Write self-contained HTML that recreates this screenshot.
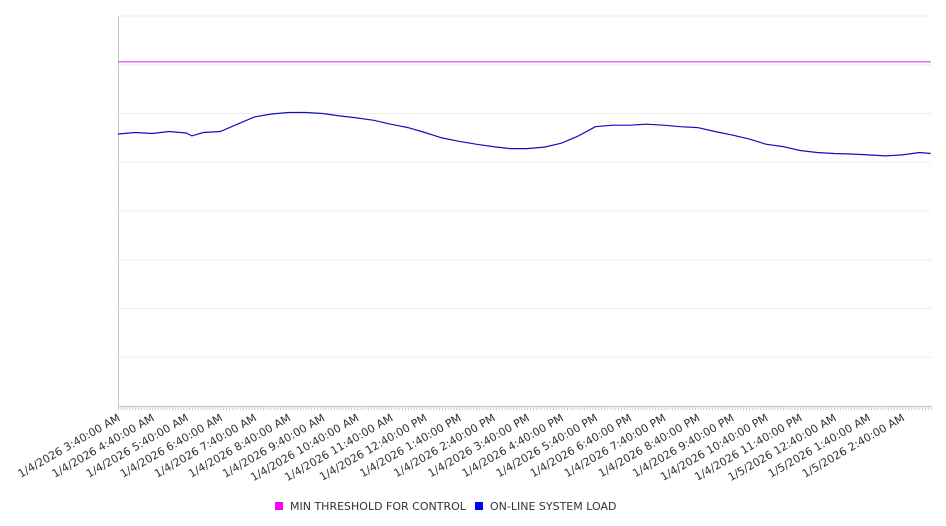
<!DOCTYPE html>
<html><head><meta charset="utf-8"><style>
html,body{margin:0;padding:0;background:#fff;width:946px;height:526px;overflow:hidden}
svg{display:block;font-family:"DejaVu Sans","Liberation Sans",sans-serif}
</style></head><body>
<svg id="chart" width="946" height="526"></svg>
<script>
const tickLabels = ["1/4/2026 3:40:00 AM","1/4/2026 4:40:00 AM","1/4/2026 5:40:00 AM","1/4/2026 6:40:00 AM","1/4/2026 7:40:00 AM","1/4/2026 8:40:00 AM","1/4/2026 9:40:00 AM","1/4/2026 10:40:00 AM","1/4/2026 11:40:00 AM","1/4/2026 12:40:00 PM","1/4/2026 1:40:00 PM","1/4/2026 2:40:00 PM","1/4/2026 3:40:00 PM","1/4/2026 4:40:00 PM","1/4/2026 5:40:00 PM","1/4/2026 6:40:00 PM","1/4/2026 7:40:00 PM","1/4/2026 8:40:00 PM","1/4/2026 9:40:00 PM","1/4/2026 10:40:00 PM","1/4/2026 11:40:00 PM","1/5/2026 12:40:00 AM","1/5/2026 1:40:00 AM","1/5/2026 2:40:00 AM"];
const loadMinutes = [0,30,60,90,120,130,150,180,210,240,270,300,330,360,390,420,450,480,510,540,570,600,630,660,690,720,750,780,810,840,870,900,930,960,990,1020,1050,1080,1110,1140,1170,1200,1230,1260,1290,1320,1350,1380,1410,1430];
const loadValues = [55.8,56.1,55.9,56.3,56.0,55.4,56.1,56.3,57.8,59.3,59.9,60.2,60.2,60.0,59.5,59.1,58.6,57.8,57.1,56.1,55.0,54.3,53.7,53.2,52.8,52.8,53.1,53.9,55.4,57.3,57.6,57.6,57.8,57.6,57.3,57.1,56.3,55.6,54.8,53.7,53.2,52.4,52.0,51.8,51.7,51.5,51.3,51.5,52.0,51.8];
const thresholdValue = 70.6;
const yMax = 80, yGridStep = 10;

const NS="http://www.w3.org/2000/svg";
const svg=document.getElementById('chart');
const L=118,R=931,T=16,B=406;
const pxPerMin=34.1/60;
const x=m=>L+m*pxPerMin;
const y=v=>B-(v/yMax)*(B-T);
function mk(tag,attrs,parent){const e=document.createElementNS(NS,tag);for(const k in attrs)e.setAttribute(k,attrs[k]);(parent||svg).appendChild(e);return e;}

for(let v=0;v<=yMax;v+=yGridStep){
  const g=mk('line',{x1:L,x2:R,y1:y(v),y2:y(v),stroke:'#ececec','stroke-width':1});
  
  
}
const ax=mk('line',{x1:L+0.5,x2:L+0.5,y1:T,y2:B,stroke:'#c8c8c8','stroke-width':1});


const xa=mk('line',{x1:L,x2:R,y1:B+0.5,y2:B+0.5,stroke:'#c8c8c8','stroke-width':1});


for(let m=0;x(m)<=R;m+=5){
  const t=mk('line',{x1:x(m)+0.5,x2:x(m)+0.5,y1:B,y2:B+4,stroke:'#c8c8c8','stroke-width':1});
  
  
}
tickLabels.forEach((s,i)=>{
  const tx=x(i*60)+3, ty=B+14;
  const t=mk('text',{x:tx,y:ty,'text-anchor':'end','font-size':11,fill:'#333',transform:`rotate(-30 ${tx} ${ty})`});
  t.textContent=s;
  
  
});
const th=mk('line',{x1:L,x2:R,y1:y(thresholdValue),y2:y(thresholdValue),stroke:'#e020e0','stroke-width':1});


const pts=loadMinutes.map((m,i)=>x(m).toFixed(1)+','+y(loadValues[i]).toFixed(1)).join(' ');
const ln=mk('polyline',{points:pts,fill:'none',stroke:'#1010c0','stroke-width':1.2});



const lg=mk('g',{});


const items=[["MIN THRESHOLD FOR CONTROL","#ff00ff",275],["ON-LINE SYSTEM LOAD","#0000ff",475]];
items.forEach(([s,c,lx])=>{
  const r=mk('rect',{x:lx,y:502,width:8,height:8,fill:c},lg);
  
  
  const t=mk('text',{x:lx+15,y:510,'font-size':11,fill:'#333'},lg);
  t.textContent=s;
  
  
});
</script>
</body></html>
